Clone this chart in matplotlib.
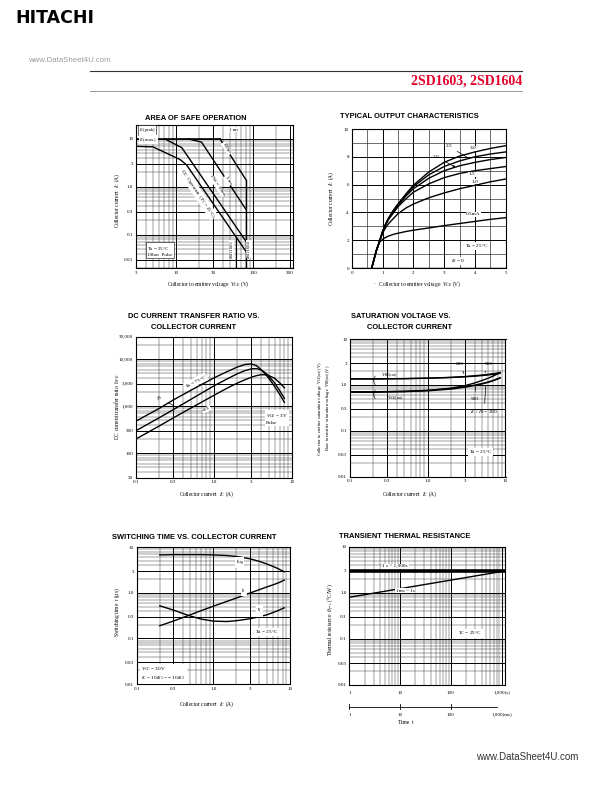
import numpy as np
import matplotlib
matplotlib.use('Agg')
import matplotlib.pyplot as plt
from matplotlib.ticker import LogLocator, FixedLocator, MultipleLocator, NullFormatter
from matplotlib.lines import Line2D
import matplotlib.transforms as mtransforms

plt.rcParams['mathtext.fontset'] = 'custom'
plt.rcParams['mathtext.rm'] = 'Liberation Serif'
plt.rcParams['mathtext.it'] = 'Liberation Serif:italic'
plt.rcParams['font.family'] = ['Liberation Serif', 'DejaVu Serif']

# ---------------- data ----------------
# Area of safe operation (VCE in V, Ic in A)
soa_icmax_v = [3, 37]
soa_icmax_i = [10, 10]
soa_dc_v = [3, 5.0, 11.2, 13.6, 80]
soa_dc_i = [7.0, 6.8, 3.7, 2.86, 0.045]
soa_10ms_v = [7.1, 11.8, 80]
soa_10ms_i = [10, 6.55, 0.073]
soa_1ms_v = [14.3, 21.3, 80]
soa_1ms_i = [10, 8.55, 0.34]
soa_100us_v = [37, 80]
soa_100us_i = [10, 1.41]
soa_vceo4_v = [80, 80]
soa_vceo4_i = [0.02, 1.41]
soa_vceo3_v = [60, 60]
soa_vceo3_i = [0.02, 0.09]
soa_xticks = [3, 10, 30, 100, 300]
soa_xticklabels = ['3', '10', '30', '100', '300']
soa_yticks = [0.03, 0.1, 0.3, 1.0, 3, 10]
soa_yticklabels = ['0.03', '0.1', '0.3', '1.0', '3', '10']

# Typical output characteristics (VCE in V, Ic in A)
out_vce = [0.65, 0.8, 0.9, 1.0, 1.1, 1.2, 1.35, 1.5, 1.75, 2.0, 2.5, 3.0, 3.5, 4.0, 4.5, 5.0]
out_ic_3p0 = [0, 1.25, 1.9, 2.6, 3.15, 3.6, 4.15, 4.6, 5.3, 5.95, 6.9, 7.6, 8.05, 8.35, 8.6, 8.8]
out_ic_2p5 = [0, 1.25, 1.9, 2.6, 3.15, 3.6, 4.1, 4.55, 5.25, 5.85, 6.7, 7.3, 7.7, 8.0, 8.2, 8.35]
out_ic_2p0 = [0, 1.25, 1.9, 2.6, 3.15, 3.55, 4.05, 4.5, 5.15, 5.7, 6.45, 7.0, 7.35, 7.6, 7.8, 7.95]
out_ic_1p5 = [0, 1.25, 1.9, 2.6, 3.1, 3.5, 3.95, 4.4, 4.95, 5.45, 6.05, 6.5, 6.8, 7.0, 7.15, 7.3]
out_ic_1p0 = [0, 1.25, 1.9, 2.5, 2.9, 3.2, 3.55, 3.9, 4.3, 4.6, 5.05, 5.4, 5.7, 5.95, 6.2, 6.4]
out_ic_0p5 = [0, 1.25, 1.85, 2.05, 2.2, 2.3, 2.42, 2.5, 2.62, 2.72, 2.88, 3.05, 3.2, 3.35, 3.5, 3.62]
out_xticks = [0, 1, 2, 3, 4, 5]
out_yticks = [0, 2, 4, 6, 8, 10]

# DC current transfer ratio (Ic in A, hFE)
hfe_ic = [0.1, 0.2, 0.3, 0.5, 1.0, 1.5, 2.0, 2.5, 3.0, 3.5, 4.0, 4.5, 5.0, 6.0, 7.0, 8.0]
hfe_75 = [480, 900, 1350, 2150, 4000, 5500, 6800, 7700, 7900, 7300, 6000, 4900, 4000, 2600, 1750, 1200]
hfe_25 = [300, 570, 840, 1380, 2700, 3850, 4900, 5700, 6200, 6300, 5900, 5200, 4400, 3100, 2100, 1450]
hfe_m25 = [200, 380, 560, 900, 1700, 2450, 3100, 3650, 4100, 4450, 4650, 4650, 4500, 3900, 3100, 2450]
ic_xticks = [0.1, 0.3, 1.0, 3, 10]
ic_xticklabels = ['0.1', '0.3', '1.0', '3', '10']
hfe_yticks = [30, 100, 300, 1000, 3000, 10000, 30000]
hfe_yticklabels = ['30', '100', '300', '1,000', '3,000', '10,000', '30,000']

# Saturation voltage (Ic in A, V)
sat_ic = [0.1, 0.2, 0.3, 0.5, 1.0, 2.0, 3.0, 4.0, 5.0, 6.0, 7.0, 8.5]
vbe_200 = [1.35, 1.35, 1.36, 1.37, 1.40, 1.46, 1.52, 1.58, 1.64, 1.70, 1.76, 1.85]
vbe_500 = [1.35, 1.35, 1.36, 1.37, 1.40, 1.45, 1.50, 1.55, 1.60, 1.65, 1.70, 1.78]
vce_200 = [0.70, 0.70, 0.71, 0.72, 0.75, 0.82, 0.90, 0.98, 1.06, 1.15, 1.25, 1.42]
vce_500 = [0.70, 0.70, 0.71, 0.72, 0.76, 0.85, 0.96, 1.10, 1.25, 1.40, 1.57, 1.85]
v_yticks = [0.01, 0.03, 0.1, 0.3, 1.0, 3, 10]
v_yticklabels = ['0.01', '0.03', '0.1', '0.3', '1.0', '3', '10']

# Switching time (Ic in A, t in us)
sw_ic = [0.2, 0.3, 0.5, 0.7, 1.0, 1.5, 2.0, 3.0, 4.0, 5.0, 6.0, 7.0, 8.4]
sw_tstg = [6.8, 6.9, 6.9, 6.9, 6.8, 6.6, 6.3, 5.6, 4.9, 4.3, 3.8, 3.4, 2.9]
sw_tr = [0.19, 0.24, 0.33, 0.41, 0.51, 0.65, 0.77, 0.99, 1.18, 1.35, 1.5, 1.65, 1.9]
sw_tf = [0.52, 0.42, 0.31, 0.265, 0.24, 0.235, 0.245, 0.27, 0.30, 0.33, 0.37, 0.41, 0.47]

# Transient thermal resistance (t, degC/W)
th_t = [1, 1100]
th_long = [3.0, 3.0]
th_short = [0.8, 2.95]
th_xticks = [1, 10, 100, 1000]
th_xticklabels = ['1', '10', '100', '1,000(s)']
th_ms_ticks = [1, 10, 100]
th_ms_labels = ['1', '10', '100']

# ---------------- figure ----------------
W, H = 612, 792
fig = plt.figure(figsize=(W / 100, H / 100), dpi=100)
fig.patch.set_facecolor('white')


def rect(l, t, r, b):
    return [l / W, 1 - b / H, (r - l) / W, (b - t) / H]


def ft(x, y, s, **kw):
    return fig.text(x / W, 1 - y / H, s, **kw)


def fline(x0, y0, x1, y1, **kw):
    fig.add_artist(Line2D([x0 / W, x1 / W], [1 - y0 / H, 1 - y1 / H],
                          transform=fig.transFigure, **kw))


TICK_FS = 3.6
LAB_FS = 4.0
TITLE_FS = 5.4
LW = 1.0


def style_log(ax, xlim, ylim, xt, xtl, yt, ytl, xlog=True):
    if xlog:
        ax.set_xscale('log')
        ax.xaxis.set_minor_locator(LogLocator(base=10, subs=np.arange(2, 10), numticks=30))
    ax.set_yscale('log')
    ax.yaxis.set_minor_locator(LogLocator(base=10, subs=np.arange(2, 10), numticks=30))
    ax.set_xlim(*xlim)
    ax.set_ylim(*ylim)
    ax.set_xticks(xt)
    ax.set_xticklabels(xtl)
    ax.set_yticks(yt)
    ax.set_yticklabels(ytl)
    ax.xaxis.set_minor_formatter(NullFormatter())
    ax.yaxis.set_minor_formatter(NullFormatter())
    finish(ax)


def finish(ax):
    ax.grid(True, which='major', color='black', lw=0.7)
    ax.grid(True, which='minor', color='0.25', lw=0.35)
    ax.set_axisbelow(True)
    ax.tick_params(which='both', length=0, labelsize=TICK_FS, pad=2)
    for lab in ax.get_xticklabels() + ax.get_yticklabels():
        lab.set_fontfamily('Liberation Serif')
    for s in ax.spines.values():
        s.set_linewidth(0.8)


wbox = dict(facecolor='white', edgecolor='none', pad=0.4)

# ---------- header ----------
ft(15, 18, 'HITACHI', fontsize=12.5, fontweight='bold', family='DejaVu Sans',
   va='center', ha='left')
ft(28, 60, 'www.DataSheet4U.com', fontsize=5.6, family='Liberation Sans', color='#9a9a9a',
   va='center', ha='left')
fline(90, 71, 522, 71, color='#333333', lw=0.8)
fline(90, 91, 522, 91, color='#888888', lw=0.6)
ft(522, 81, '2SD1603, 2SD1604', fontsize=10, fontweight='bold', family='Liberation Serif',
   color='#e4002b', va='center', ha='right')
ft(578, 757, 'www.DataSheet4U.com', fontsize=7.0, family='Liberation Sans', color='#333333',
   va='center', ha='right')

# ---------- 1. Area of safe operation ----------
ax1 = fig.add_axes(rect(136, 124.5, 293, 268))
style_log(ax1, (3, 328), (0.02, 20), soa_xticks, soa_xticklabels, soa_yticks, soa_yticklabels)
ax1.plot(soa_icmax_v, soa_icmax_i, color='black', lw=1.2)
ax1.plot(soa_dc_v, soa_dc_i, color='black', lw=LW)
ax1.plot(soa_10ms_v, soa_10ms_i, color='black', lw=LW)
ax1.plot(soa_1ms_v, soa_1ms_i, color='black', lw=LW)
ax1.plot(soa_100us_v, soa_100us_i, color='black', lw=LW)
ax1.plot(soa_vceo4_v, soa_vceo4_i, color='black', lw=LW)
ax1.plot(soa_vceo3_v, soa_vceo3_i, color='black', lw=0.8)
ax1.text(3.3, 15.5, r'$I_C$(peak)', fontsize=3.2, va='center', ha='left',
         bbox=dict(facecolor='white', edgecolor='black', lw=0.4, pad=0.5))
ax1.text(3.3, 9.6, r'$I_C$(max.)', fontsize=3.4, va='center', ha='left', bbox=wbox)
ax1.text(48, 15.5, '1 ms', fontsize=3.4, va='center', ha='left', bbox=wbox)
ax1.text(19.1, 0.72, r'DC  Operation  ($T_C$ = 25°C)', fontsize=3.6, rotation=-56,
         va='center', ha='center', bbox=wbox)
ax1.text(34, 1.05, 'PW = 10ms', fontsize=3.6, rotation=-56, va='center', ha='center', bbox=wbox)
ax1.text(47, 1.35, '1 ms', fontsize=3.6, rotation=-57, va='center', ha='center', bbox=wbox)
ax1.text(45, 6.3, '100µs', fontsize=3.6, rotation=-58, va='center', ha='center', bbox=wbox)
ax1.text(52, 0.05, '2SD1603', fontsize=3.4, rotation=90, va='center', ha='center', bbox=wbox)
ax1.text(88, 0.05, '2SD1604', fontsize=3.4, rotation=90, va='center', ha='center', bbox=wbox)
ax1.text(4.2, 0.046, r'$T$a = 25°C' + '\n1Shot  Pulse', fontsize=3.6, va='center', ha='left',
         linespacing=1.3, bbox=dict(facecolor='white', edgecolor='black', lw=0.4, pad=1.0))
ft(196, 118, 'AREA OF SAFE OPERATION', fontsize=TITLE_FS, fontweight='bold',
   family='Liberation Sans', ha='center', va='center')
ft(208, 284.5, r'Collector to emitter voltage  $V_{CE}$ (V)', fontsize=LAB_FS, ha='center', va='center')
ft(117, 200, r'Collector current  $I_C$ (A)', fontsize=LAB_FS, ha='center', va='center', rotation=90)

# ---------- 2. Typical output characteristics ----------
ax2 = fig.add_axes(rect(351.7, 129, 505.7, 268))
ax2.set_xlim(0, 5)
ax2.set_ylim(0, 10)
ax2.set_xticks(out_xticks)
ax2.set_yticks(out_yticks)
ax2.xaxis.set_minor_locator(MultipleLocator(0.5))
ax2.yaxis.set_minor_locator(MultipleLocator(1))
finish(ax2)
ax2.grid(True, which='minor', color='0.2', lw=0.5)
for ys in [out_ic_3p0, out_ic_2p5, out_ic_2p0, out_ic_1p5, out_ic_1p0, out_ic_0p5]:
    ax2.plot(out_vce, ys, color='black', lw=LW)
ax2.plot([0, 5], [0, 0], color='black', lw=LW)
ax2.annotate('2.5', xy=(3.8, 7.9), xytext=(3.15, 8.75), fontsize=3.8, ha='center', va='center',
             arrowprops=dict(arrowstyle='-', lw=0.5, color='black'))
ax2.text(3.95, 8.62, '3.0', fontsize=3.8, ha='center', va='center', bbox=wbox)
ax2.annotate('2.0', xy=(3.45, 7.15), xytext=(2.75, 8.0), fontsize=3.8, ha='center', va='center',
             arrowprops=dict(arrowstyle='-|>', lw=0.5, color='black', mutation_scale=3))
ax2.text(3.9, 6.75, '1.5', fontsize=3.8, ha='center', va='center', bbox=wbox)
ax2.text(4.0, 6.2, '1.0', fontsize=3.8, ha='center', va='center', bbox=wbox)
ax2.text(3.95, 3.85, '0.5mA', fontsize=3.8, ha='center', va='center', bbox=wbox)
ax2.text(4.05, 1.6, r'$T$a = 25°C', fontsize=3.8, ha='center', va='center', bbox=wbox)
ax2.text(3.45, 0.5, r'$I_B$ = 0', fontsize=3.8, ha='center', va='center', bbox=wbox)
ft(409, 117, 'TYPICAL OUTPUT CHARACTERISTICS', fontsize=TITLE_FS, fontweight='bold',
   family='Liberation Sans', ha='center', va='center')
ft(417, 284.5, r'·   Collector to emitter voltage  $V_{CE}$ (V)', fontsize=LAB_FS, ha='center', va='center')
ft(331.5, 198, r'Collector current  $I_C$ (A)', fontsize=LAB_FS, ha='center', va='center', rotation=90)

# ---------- 3. DC current transfer ratio ----------
ax3 = fig.add_axes(rect(136, 336.7, 292, 477.7))
style_log(ax3, (0.1, 10), (30, 30000), ic_xticks, ic_xticklabels, hfe_yticks, hfe_yticklabels)
ax3.plot(hfe_ic, hfe_75, color='black', lw=LW)
ax3.plot(hfe_ic, hfe_25, color='black', lw=LW)
ax3.plot(hfe_ic, hfe_m25, color='black', lw=LW)
ax3.text(0.58, 3300, r'$T$a = 75°C', fontsize=3.8, rotation=27, ha='center', va='center', bbox=wbox)
ax3.annotate('25', xy=(0.33, 950), xytext=(0.2, 1500), fontsize=3.8, ha='center', va='center',
             rotation=27, arrowprops=dict(arrowstyle='-', lw=0.5, color='black'))
ax3.text(0.8, 850, '−25', fontsize=3.8, rotation=27, ha='center', va='center', bbox=wbox)
ax3.text(4.6, 540, r'$V_{CE}$ = 3V' + '\nPulse', fontsize=3.8, ha='left', va='center',
         linespacing=1.3, bbox=dict(facecolor='white', edgecolor='none', pad=0.8))
ft(194, 316, 'DC CURRENT TRANSFER RATIO VS.', fontsize=TITLE_FS, fontweight='bold',
   family='Liberation Sans', ha='center', va='center')
ft(194, 327.5, 'COLLECTOR CURRENT', fontsize=TITLE_FS, fontweight='bold',
   family='Liberation Sans', ha='center', va='center')
ft(207, 494, r'Collector current  $I_C$ (A)', fontsize=LAB_FS, ha='center', va='center')
ft(117, 407, r'DC current transfer ratio  $h_{FE}$', fontsize=LAB_FS, ha='center', va='center', rotation=90)

# ---------- 4. Saturation voltage ----------
ax4 = fig.add_axes(rect(350, 339, 505.5, 476.7))
style_log(ax4, (0.1, 10), (0.01, 10), ic_xticks, ic_xticklabels, v_yticks, v_yticklabels)
ax4.plot(sat_ic, vbe_200, color='black', lw=LW)
ax4.plot(sat_ic, vbe_500, color='black', lw=LW)
ax4.plot(sat_ic, vce_200, color='black', lw=1.3)
ax4.plot(sat_ic, vce_500, color='black', lw=LW)
ax4.text(0.25, 1.62, r'$V_{BE(sat)}$', fontsize=3.8, ha='left', va='center')
ax4.text(0.205, 1.25, '(', fontsize=7, ha='center', va='center')
ax4.text(0.205, 0.64, '(', fontsize=7, ha='center', va='center')
ax4.text(0.3, 0.5, r'$V_{CE(sat)}$', fontsize=3.8, ha='left', va='center')
ax4.annotate('200', xy=(3.0, 1.55), xytext=(2.6, 2.9), fontsize=3.8, ha='center', va='center',
             arrowprops=dict(arrowstyle='-', lw=0.5, color='black'))
ax4.annotate('500', xy=(5.3, 1.62), xytext=(6.0, 2.9), fontsize=3.8, ha='center', va='center',
             arrowprops=dict(arrowstyle='-', lw=0.5, color='black'))
ax4.annotate('500', xy=(4.2, 1.1), xytext=(4.0, 0.5), fontsize=3.8, ha='center', va='center',
             arrowprops=dict(arrowstyle='-', lw=0.5, color='black'))
ax4.annotate(r'$I_C$ / $I_B$ = 200', xy=(5.6, 1.08), xytext=(5.3, 0.25), fontsize=3.8,
             ha='center', va='center', arrowprops=dict(arrowstyle='-', lw=0.5, color='black'))
ax4.text(3.4, 0.035, r'$T$a = 25°C', fontsize=3.8, ha='left', va='center', bbox=wbox)
ft(401, 316, 'SATURATION VOLTAGE VS.', fontsize=TITLE_FS, fontweight='bold',
   family='Liberation Sans', ha='center', va='center')
ft(410, 327.5, 'COLLECTOR CURRENT', fontsize=TITLE_FS, fontweight='bold',
   family='Liberation Sans', ha='center', va='center')
ft(410, 494, r'Collector current  $I_C$ (A)', fontsize=LAB_FS, ha='center', va='center')
ft(321.0, 408, r'Collector to emitter saturation voltage  $V_{CE(sat)}$ (V)', fontsize=3.3,
   ha='center', va='center', rotation=90)
ft(328.5, 408, r'Base to emitter saturation voltage  $V_{BE(sat)}$ (V)', fontsize=3.3,
   ha='center', va='center', rotation=90)

# ---------- 5. Switching time ----------
ax5 = fig.add_axes(rect(136.7, 547.3, 290, 684))
style_log(ax5, (0.1, 10), (0.01, 10), ic_xticks, ic_xticklabels, v_yticks, v_yticklabels)
ax5.plot(sw_ic, sw_tstg, color='black', lw=LW)
ax5.plot(sw_ic, sw_tr, color='black', lw=LW)
ax5.plot(sw_ic, sw_tf, color='black', lw=LW)
ax5.text(2.2, 4.6, r'$t_{stg}$', fontsize=4.0, ha='center', va='center', bbox=wbox)
ax5.text(2.5, 1.1, r'$t_r$', fontsize=4.0, ha='center', va='center', bbox=wbox)
ax5.text(4.0, 0.40, r'$t_f$', fontsize=4.0, ha='center', va='center', bbox=wbox)
ax5.text(4.9, 0.14, r'$T$a = 25°C', fontsize=3.8, ha='center', va='center', bbox=wbox)
ax5.text(0.115, 0.0165, r'$V_{CC}$ = 30V' + '\n' + r'$I_C$ = 10$I_{B1}$ = − 10$I_{B2}$',
         fontsize=3.8, ha='left', va='center', linespacing=1.3,
         bbox=dict(facecolor='white', edgecolor='none', pad=1.0))
ft(194.5, 537.5, 'SWITCHING TIME VS. COLLECTOR CURRENT', fontsize=TITLE_FS, fontweight='bold',
   family='Liberation Sans', ha='center', va='center')
ft(207, 704, r'Collector current  $I_C$ (A)', fontsize=LAB_FS, ha='center', va='center')
ft(117, 612, r'Switching time  $t$ (µs)', fontsize=LAB_FS, ha='center', va='center', rotation=90)

# ---------- 6. Transient thermal resistance ----------
ax6 = fig.add_axes(rect(349.3, 546.7, 505, 685))
style_log(ax6, (1, 1160), (0.01, 10), th_xticks, th_xticklabels, v_yticks, v_yticklabels)
ax6.tick_params(axis='x', pad=4)
ax6.plot(th_t, th_long, color='black', lw=2.6)
ax6.plot(th_t, th_short, color='black', lw=LW)
ax6.text(8.0, 3.75, '1 s ~ 1,000s', fontsize=3.8, ha='center', va='center', bbox=wbox)
ax6.text(12.5, 1.12, '1ms ~ 1s', fontsize=3.8, ha='center', va='center', bbox=wbox)
ax6.text(240, 0.13, r'$T_C$ = 25°C', fontsize=3.8, ha='center', va='center', bbox=wbox)
tr6 = mtransforms.blended_transform_factory(ax6.transData, ax6.transAxes)
y_line = (685 - 706.7) / (685 - 546.7)
y_lab = (685 - 715) / (685 - 546.7)
ax6.plot([1, 800], [y_line, y_line], color='black', lw=0.6, transform=tr6, clip_on=False)
for xv, lab in zip(th_ms_ticks, th_ms_labels):
    ax6.plot([xv, xv], [y_line - 0.02, y_line + 0.02], color='black', lw=0.6, transform=tr6,
             clip_on=False)
    ax6.text(xv, y_lab, lab, fontsize=TICK_FS, ha='center', va='center', transform=tr6)
ax6.text(1000, y_lab, '1,000(ms)', fontsize=TICK_FS, ha='center', va='center', transform=tr6)
ft(405, 537, 'TRANSIENT THERMAL RESISTANCE', fontsize=TITLE_FS, fontweight='bold',
   family='Liberation Sans', ha='center', va='center')
ft(406, 723, 'Time  t', fontsize=LAB_FS, ha='center', va='center')
ft(331, 620, r'Thermal resistance  $\theta_{j-c}$ (°C/W)', fontsize=LAB_FS, ha='center',
   va='center', rotation=90)

fig.savefig('out.png', dpi=100, facecolor='white')
